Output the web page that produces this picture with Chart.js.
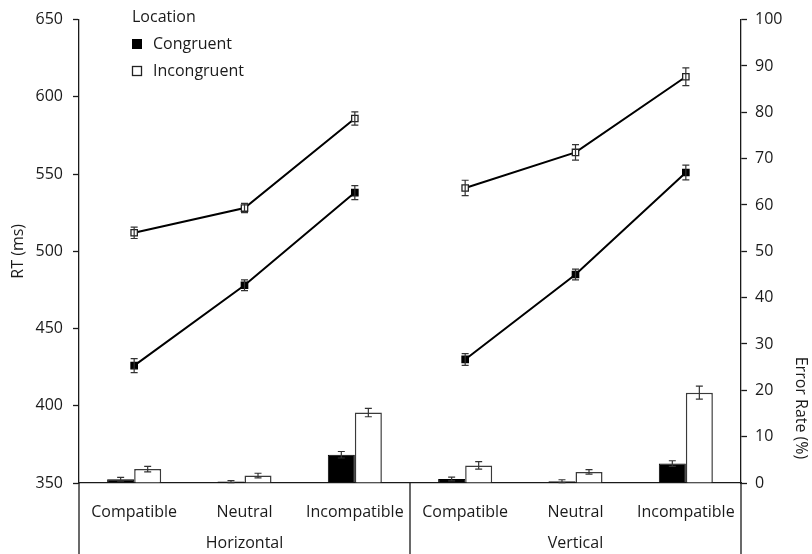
<!DOCTYPE html>
<html>
<head>
<meta charset="utf-8">
<script src="https://cdn.jsdelivr.net/npm/chart.js@4"></script>
<style>
  html, body { margin: 0; padding: 0; background: #fff; }
  #wrap { width: 812px; height: 554px; }
</style>
</head>
<body>
<div id="wrap"><canvas id="myChart" width="812" height="554"></canvas></div>
<script>
const categories = ["Compatible", "Neutral", "Incompatible", "Compatible", "Neutral", "Incompatible"];
const groups = ["Horizontal", "Vertical"];
const legendTitle = "Location";
const seriesNames = ["Congruent", "Incongruent"];

// RT (ms), left axis
const rtCongruent = [426, 478, 538, 430, 485, 551];
const rtCongruentErr = [4.5, 3.5, 4.5, 3.8, 3.5, 4.8];
const rtIncongruent = [512, 528, 586, 541, 564, 613];
const rtIncongruentErr = [3.7, 3.0, 4.3, 5.0, 5.0, 5.8];

// Error rate (%), right axis
const errCongruent = [0.8, 0.3, 6.1, 0.85, 0.4, 4.2];
const errCongruentErr = [0.4, 0.2, 0.7, 0.4, 0.3, 0.6];
const errIncongruent = [3.0, 1.6, 15.2, 3.8, 2.4, 19.5];
const errIncongruentErr = [0.6, 0.5, 0.9, 0.8, 0.5, 1.4];

const FONT = "'Open Sans', sans-serif";
const INK = "#1a1a1a";

// break the line between Horizontal and Vertical groups
const splitSegment = {
  borderColor: (ctx) => (ctx.p0DataIndex === 2 ? "rgba(0,0,0,0)" : "#000"),
};

const errorBars = {
  id: "errorBars",
  afterDatasetsDraw(chart) {
    const ctx = chart.ctx;
    ctx.save();
    ctx.strokeStyle = "#333";
    ctx.lineWidth = 1.2;
    chart.data.datasets.forEach((ds, i) => {
      if (!ds.errors) return;
      const meta = chart.getDatasetMeta(i);
      const scale = chart.scales[ds.yAxisID];
      meta.data.forEach((el, j) => {
        const v = ds.data[j];
        const e = ds.errors[j];
        if (v == null) return;
        const x = el.x;
        const yt = scale.getPixelForValue(v + e);
        const yb = scale.getPixelForValue(v - e);
        ctx.beginPath();
        ctx.moveTo(x, yt);
        ctx.lineTo(x, yb);
        ctx.moveTo(x - 3.5, yt);
        ctx.lineTo(x + 3.5, yt);
        ctx.moveTo(x - 3.5, yb);
        ctx.lineTo(x + 3.5, yb);
        ctx.stroke();
      });
    });
    ctx.restore();
  },
};

const decorations = {
  id: "decorations",
  afterDraw(chart) {
    const ctx = chart.ctx;
    const xs = chart.scales.x;
    const area = chart.chartArea;
    const h = chart.height;
    ctx.save();

    // group separators below the axis
    ctx.strokeStyle = INK;
    ctx.lineWidth = 1.3;
    [xs.left, xs.getPixelForValue(2.5), xs.right].forEach((x) => {
      ctx.beginPath();
      ctx.moveTo(x, area.bottom);
      ctx.lineTo(x, h);
      ctx.stroke();
    });

    // group labels
    ctx.fillStyle = INK;
    ctx.font = "16px " + FONT;
    ctx.textAlign = "center";
    ctx.textBaseline = "middle";
    ctx.fillText(groups[0], xs.getPixelForValue(1), 543);
    ctx.fillText(groups[1], xs.getPixelForValue(4), 543);

    // axis titles
    ctx.save();
    ctx.translate(18, (area.top + area.bottom) / 2);
    ctx.rotate(-Math.PI / 2);
    ctx.fillText("RT (ms)", 0, 0);
    ctx.restore();
    ctx.save();
    ctx.translate(801, 408);
    ctx.rotate(Math.PI / 2);
    ctx.fillText("Error Rate (%)", 0, 0);
    ctx.restore();

    // legend
    ctx.textAlign = "left";
    ctx.fillText(legendTitle, 132, 17);
    ctx.fillStyle = "#000";
    ctx.fillRect(132, 39, 10, 10);
    ctx.fillStyle = INK;
    ctx.fillText(seriesNames[0], 153, 44);
    ctx.strokeStyle = "#222";
    ctx.lineWidth = 1.3;
    ctx.strokeRect(132.5, 66.5, 9, 9);
    ctx.fillText(seriesNames[1], 153, 71);

    ctx.restore();
  },
};

new Chart(document.getElementById("myChart"), {
  type: "bar",
  data: {
    labels: categories,
    datasets: [
      {
        type: "line",
        label: seriesNames[0] + " RT",
        data: rtCongruent,
        errors: rtCongruentErr,
        yAxisID: "y",
        borderColor: "#000",
        borderWidth: 2,
        segment: splitSegment,
        pointStyle: "rect",
        pointRadius: 4.5,
        pointBackgroundColor: "#000",
        pointBorderColor: "#000",
        pointBorderWidth: 1.3,
        order: 0,
      },
      {
        type: "line",
        label: seriesNames[1] + " RT",
        data: rtIncongruent,
        errors: rtIncongruentErr,
        yAxisID: "y",
        borderColor: "#000",
        borderWidth: 2,
        segment: splitSegment,
        pointStyle: "rect",
        pointRadius: 4.5,
        pointBackgroundColor: "#fff",
        pointBorderColor: "#222",
        pointBorderWidth: 1.3,
        order: 0,
      },
      {
        label: seriesNames[0] + " errors",
        data: errCongruent,
        errors: errCongruentErr,
        yAxisID: "y1",
        backgroundColor: "#000",
        borderColor: "#000",
        borderWidth: 1,
        categoryPercentage: 0.49,
        barPercentage: 1,
        order: 1,
      },
      {
        label: seriesNames[1] + " errors",
        data: errIncongruent,
        errors: errIncongruentErr,
        yAxisID: "y1",
        backgroundColor: "#fff",
        borderColor: "#3a3a3a",
        borderWidth: 1.5,
        categoryPercentage: 0.49,
        barPercentage: 1,
        order: 1,
      },
    ],
  },
  options: {
    responsive: false,
    animation: false,
    layout: { padding: { top: 14, left: 0, right: 0, bottom: 0 } },
    plugins: {
      legend: { display: false },
      tooltip: { enabled: false },
    },
    scales: {
      x: {
        grid: { display: false },
        border: { color: INK, width: 1.3 },
        ticks: { color: INK, font: { family: FONT, size: 16 }, padding: 12, maxRotation: 0 },
        afterFit: (s) => { s.height = 71; },
      },
      y: {
        position: "left",
        min: 350,
        max: 650,
        ticks: { stepSize: 50, color: INK, font: { family: FONT, size: 16 }, padding: 10 },
        grid: { drawOnChartArea: false, tickLength: 6, color: INK, tickWidth: 1.3 },
        border: { color: INK, width: 1.3 },
        afterFit: (s) => { s.width = 79; },
      },
      y1: {
        position: "right",
        min: 0,
        max: 100,
        ticks: { stepSize: 10, color: INK, font: { family: FONT, size: 16 }, padding: 8 },
        grid: { drawOnChartArea: false, tickLength: 6, color: INK, tickWidth: 1.3 },
        border: { color: INK, width: 1.3 },
        afterFit: (s) => { s.width = 71; },
      },
    },
  },
  plugins: [errorBars, decorations],
});
</script>
</body>
</html>
